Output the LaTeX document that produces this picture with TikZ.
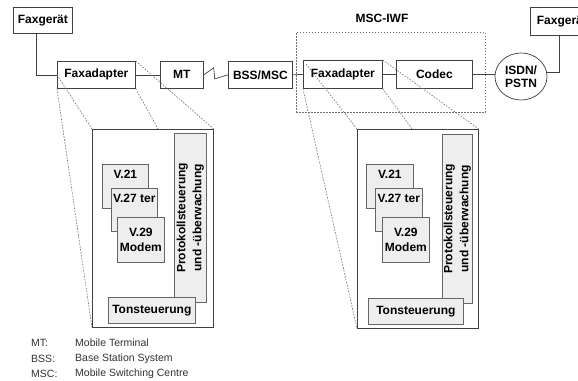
\documentclass[tikz,border=0pt]{standalone}
\usepackage{fontspec}
\setmainfont{Liberation Sans}
\usetikzlibrary{shapes.geometric,calc}
\definecolor{lnc}{HTML}{404040}
\definecolor{gfill}{HTML}{EEEEEE}
\definecolor{dsh}{HTML}{707070}
\tikzset{
  bx/.style={draw=lnc, line width=0.7pt, fill=white, rectangle, inner sep=0pt, anchor=north west,
    font=\fontsize{12}{14}\selectfont\bfseries, align=center},
  gbx/.style={bx, draw=black!60, fill=gfill},
  big/.style={draw=lnc, line width=0.7pt, rectangle, inner sep=0pt, anchor=north west},
  conn/.style={draw=lnc, line width=0.7pt},
  proj/.style={draw=dsh, line width=0.6pt, dash pattern=on 1.6pt off 1.4pt},
  iwfbox/.style={draw=dsh, line width=0.7pt, dash pattern=on 1.6pt off 1.4pt, rectangle, inner sep=0pt, anchor=north west},
  leg/.style={anchor=west, inner sep=0pt, text=black!80, font=\fontsize{10.5}{12}\selectfont},
  toplbl/.style={font=\fontsize{12}{14}\selectfont\bfseries, inner sep=0pt, below=6pt},
  vlbl/.style={font=\fontsize{12}{16}\selectfont\bfseries, inner sep=0pt, align=center}
}
\begin{document}
\begin{tikzpicture}[x=1pt,y=-1pt]
\useasboundingbox (0,0) rectangle (578,380);
\clip (0,0) rectangle (578,380);
\fill[white] (0,0) rectangle (578,380);

% top row
\node[bx, minimum width=59pt, minimum height=26pt] (fg1) at (13,7) {Faxger\"at};
\node[bx, minimum width=78pt, minimum height=27pt] (fa1) at (57,61) {Faxadapter};
\node[bx, minimum width=43pt, minimum height=27pt] (mt) at (160,61) {MT};
\node[bx, minimum width=64pt, minimum height=27pt] (bss) at (228,61) {BSS/MSC};
\node[iwfbox, minimum width=189pt, minimum height=80pt] (iwf) at (296,32) {};
\node[font=\fontsize{12}{14}\selectfont\bfseries, inner sep=0pt] (iwflbl) at (382,18) {MSC-IWF};
\node[bx, minimum width=79pt, minimum height=28pt] (fa2) at (303,60) {Faxadapter};
\node[bx, minimum width=76pt, minimum height=28pt] (codec) at (396,60) {Codec};
\node[bx, minimum width=63pt, minimum height=28pt] (fg2) at (530,7) {Faxger\"at};

% connectors
\coordinate (fg1d) at ($(fg1.south west)+(23,0)$);
\draw[conn] (fg1d) |- (fa1.west);
\draw[conn] (fa1.east) -- (mt.west);
\draw[conn] (mt.east) -- ++(10,-7) -- ++(1,11) -- (bss.west);
\draw[conn] (bss.east) -- (fa2.west);
\draw[conn] (fa2.east) -- (codec.east -| codec.west);
\draw[conn] (codec.east) -- ++(22,0) coordinate (isdnw);
\coordinate (fg2d) at ($(fg2.south west)+(29,0)$);
\draw[conn] (fg2d) -- (fg2d |- 0,72) -- ++(-14,0) coordinate (isdne);

\node[draw=lnc, line width=0.7pt, fill=white, ellipse, inner sep=0pt, minimum width=52pt, minimum height=47pt,
  font=\fontsize{12}{14}\selectfont\bfseries, align=center] (isdn) at (521,76.5) {ISDN/\\[-1pt]PSTN};

% left detail
\node[big, minimum width=121pt, minimum height=198pt] (bigL) at (92,129) {};
\node[gbx, minimum width=32pt, minimum height=169pt] (protL) at (174,133) {};
\node[vlbl, rotate=90] (protLt) at (protL.center) {Protokollsteuerung\\und -\"uberwachung};
\node[gbx, minimum width=46pt, minimum height=44pt, label={[toplbl] north:V.21}] (v21L) at (102,164) {};
\node[gbx, minimum width=46pt, minimum height=43pt, label={[toplbl] north:V.27 ter}] (v27L) at (111,188) {};
\node[gbx, minimum width=47pt, minimum height=45pt, font=\fontsize{12}{15.5}\selectfont\bfseries] (v29L) at (117,217) {V.29\\Modem};
\node[gbx, minimum width=87pt, minimum height=26pt] (tonL) at (108,297) {Tonsteuerung};

% right detail
\node[big, minimum width=121pt, minimum height=199pt] (bigR) at (357,129) {};
\node[gbx, minimum width=30pt, minimum height=169pt] (protR) at (442,134) {};
\node[vlbl, rotate=90] (protRt) at (protR.center) {Protokollsteuerung\\und -\"uberwachung};
\node[gbx, minimum width=47pt, minimum height=44pt, label={[toplbl] north:V.21}] (v21R) at (366,164) {};
\node[gbx, minimum width=47pt, minimum height=43pt, label={[toplbl] north:V.27 ter}] (v27R) at (375,188) {};
\node[gbx, minimum width=47pt, minimum height=45pt, font=\fontsize{12}{15.5}\selectfont\bfseries] (v29R) at (382,217) {V.29\\Modem};
\node[gbx, minimum width=95pt, minimum height=26pt] (tonR) at (368,298) {Tonsteuerung};

% projection lines
\coordinate (tickL) at (158,129);
\coordinate (tickR) at (412,129);
\draw[proj] (fa1.west) -- (bigL.north west);
\draw[proj] (fa1.south west) -- (bigL.south west);
\draw[proj] (fa1.north east) -- (bigL.north east);
\draw[proj] (fa1.south east) -- (tickL);
\draw[proj] ($(fa2.north west)+(3,4)$) -- (bigR.north west);
\draw[proj] (fa2.south west) -- (bigR.south west);
\draw[proj] (fa2.north east) -- (bigR.north east);
\draw[proj] (fa2.south east) -- (tickR);

% legend
\node[leg] (l1a) at (31,343) {MT:};
\node[leg] (l1b) at (75,343) {Mobile Terminal};
\node[leg] (l2a) at (31,359) {BSS:};
\node[leg] (l2b) at (75,359) {Base Station System};
\node[leg] (l3a) at (31,374) {MSC:};
\node[leg] (l3b) at (75,374) {Mobile Switching Centre};
\end{tikzpicture}
\end{document}
